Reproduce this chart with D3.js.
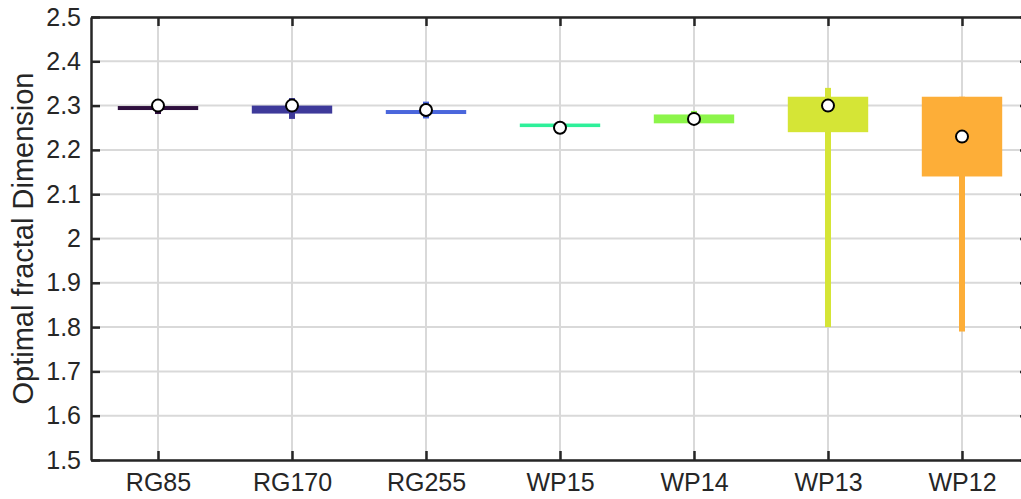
<!DOCTYPE html>
<html><head><meta charset="utf-8">
<script src="https://cdn.jsdelivr.net/npm/d3@7"></script>
<style>body{margin:0;background:#fff;}svg{display:block;}</style>
</head><body>
<svg id="chart" width="1021" height="499"></svg>
<script>
const categories = ["RG85","RG170","RG255","WP15","WP14","WP13","WP12"];
const whiskerLow  = [2.281, 2.270, 2.271, 2.251, 2.262, 1.80, 1.79];
const q1          = [2.290, 2.282, 2.281, 2.2515, 2.260, 2.24, 2.14];
const q3          = [2.299, 2.300, 2.290, 2.2595, 2.280, 2.32, 2.32];
const whiskerHigh = [2.300, 2.317, 2.309, 2.2595, 2.288, 2.34, 2.32];
const centerPts   = [2.30, 2.30, 2.29, 2.25, 2.27, 2.30, 2.23];
const colors = ["#2e0f3e","#3e3a9a","#4a66dc","#2ef09a","#8cf54a","#d5e536","#fdae38"];
const yTicks = [1.5,1.6,1.7,1.8,1.9,2,2.1,2.2,2.3,2.4,2.5];
const yLabel = "Optimal fractal Dimension";

const L = 91, R = 1029, T = 17, B = 460;
const svg = d3.select("#chart");
const x = d3.scaleLinear().domain([0.5, categories.length + 0.5]).range([L, R]);
const y = d3.scaleLinear().domain([1.5, 2.5]).range([B, T]);
const xs = categories.map((c,i)=>i+1);
const font = "'Liberation Sans', Arial, Helvetica, sans-serif";
const axisCol = "#262626";

// grid
const g = svg.append("g");
g.selectAll("line.gy").data(yTicks).enter().append("line")
  .attr("x1", L).attr("x2", R).attr("y1", d=>y(d)).attr("y2", d=>y(d))
  .attr("stroke", "#d9d9d9").attr("stroke-width", 2);
g.selectAll("line.gx").data(xs).enter().append("line")
  .attr("y1", T).attr("y2", B).attr("x1", d=>x(d)).attr("x2", d=>x(d))
  .attr("stroke", "#d9d9d9").attr("stroke-width", 2);

// boxes
const bw = x(1.6) - x(1);
const ww = 6;
const data = categories.map((c,i)=>({i:i+1, lo:whiskerLow[i], q1:q1[i], q3:q3[i], hi:whiskerHigh[i], c:centerPts[i], col:colors[i]}));
const bx = svg.append("g");
bx.selectAll("rect.w").data(data).enter().append("rect")
  .attr("x", d=>x(d.i)-ww/2).attr("width", ww)
  .attr("y", d=>y(d.hi)).attr("height", d=>y(d.lo)-y(d.hi))
  .attr("fill", d=>d.col);
bx.selectAll("rect.b").data(data).enter().append("rect")
  .attr("x", d=>x(d.i)-bw/2).attr("width", bw)
  .attr("y", d=>y(d.q3)).attr("height", d=>Math.max(2, y(d.q1)-y(d.q3)))
  .attr("fill", d=>d.col);
bx.selectAll("circle").data(data).enter().append("circle")
  .attr("cx", d=>x(d.i)).attr("cy", d=>y(d.c)).attr("r", 6)
  .attr("fill", "#fff").attr("stroke", "#000").attr("stroke-width", 2);

// axes
const xAxisB = d3.axisBottom(x).tickValues(xs).tickFormat((d)=>categories[d-1]).tickSizeInner(-9).tickSizeOuter(0).tickPadding(13);
const xAxisT = d3.axisTop(x).tickValues(xs).tickFormat("").tickSizeInner(-9).tickSizeOuter(0);
const yAxisL = d3.axisLeft(y).tickValues(yTicks).tickFormat(d3.format("~g")).tickSizeInner(-9).tickSizeOuter(0).tickPadding(10);
const yAxisR = d3.axisRight(y).tickValues(yTicks).tickFormat("").tickSizeInner(-9).tickSizeOuter(0);
function style(sel){
  sel.selectAll("path").attr("stroke", axisCol).attr("stroke-width", 2.5);
  sel.selectAll("line").attr("stroke", axisCol).attr("stroke-width", 2.5);
  sel.selectAll("text").attr("fill", axisCol).style("font-family", font).style("font-size", "25px");
}
style(svg.append("g").attr("transform", `translate(0,${B})`).call(xAxisB));
style(svg.append("g").attr("transform", `translate(0,${T})`).call(xAxisT));
style(svg.append("g").attr("transform", `translate(${L},0)`).call(yAxisL));
style(svg.append("g").attr("transform", `translate(${R},0)`).call(yAxisR));

svg.append("text")
  .attr("transform", `translate(33,${(T+B)/2}) rotate(-90)`)
  .attr("text-anchor", "middle")
  .attr("fill", axisCol)
  .style("font-family", font).style("font-size", "29px")
  .text(yLabel);
</script>
</body></html>
